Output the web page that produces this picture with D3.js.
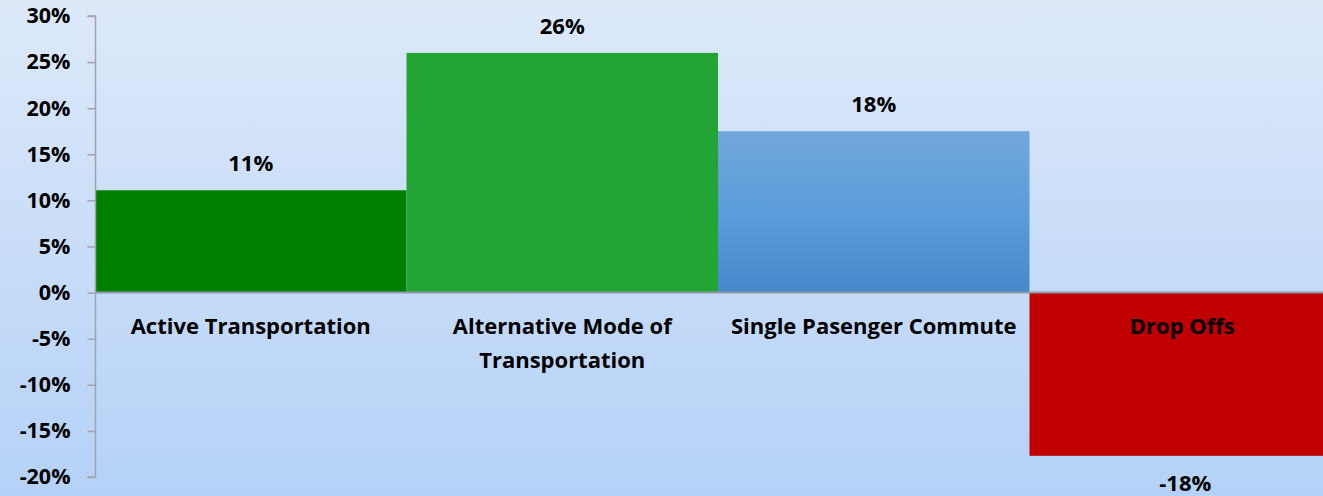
<!DOCTYPE html>
<html><head><meta charset="utf-8">
<script src="https://cdn.jsdelivr.net/npm/d3@7"></script>
<style>html,body{margin:0;padding:0;overflow:hidden;}svg{display:block;}</style>
</head><body>
<svg id="chart" width="1323" height="496"></svg>
<script>
const categories = ["Active Transportation", "Alternative Mode of Transportation", "Single Pasenger Commute", "Drop Offs"];
const categoryLines = [["Active Transportation"], ["Alternative Mode of", "Transportation"], ["Single Pasenger Commute"], ["Drop Offs"]];
const values = [11.1, 26.0, 17.5, -17.7];
const valueLabels = ["11%", "26%", "18%", "-18%"];
const tickValues = [30, 25, 20, 15, 10, 5, 0, -5, -10, -15, -20];
const barColors = ["#008000", "#22a535", "url(#blueGrad)", "#c00000"];

const W = 1323, H = 496;
const svg = d3.select("#chart");
const defs = svg.append("defs");
const bg = defs.append("linearGradient").attr("id","bgGrad").attr("x1",0).attr("y1",0).attr("x2",0).attr("y2",1);
bg.append("stop").attr("offset","0%").attr("stop-color","#dde9f9");
bg.append("stop").attr("offset","100%").attr("stop-color","#b4d1f7");
const bl = defs.append("linearGradient").attr("id","blueGrad").attr("x1",0).attr("y1",0).attr("x2",0).attr("y2",1);
bl.append("stop").attr("offset","0%").attr("stop-color","#72a7db");
bl.append("stop").attr("offset","50%").attr("stop-color","#5a9ddb");
bl.append("stop").attr("offset","100%").attr("stop-color","#4589ca");

svg.append("rect").attr("width",W).attr("height",H).attr("fill","url(#bgGrad)");

const x = d3.scaleBand().domain(categories).range([95, 1341]).paddingInner(0).paddingOuter(0);
const y = d3.scaleLinear().domain([-20, 30]).range([477, 16]);
const font = "'Open Sans', Lato, sans-serif";

svg.selectAll("rect.bar").data(categories).enter().append("rect")
  .attr("class","bar")
  .attr("x", d => x(d))
  .attr("width", x.bandwidth())
  .attr("y", (d,i) => y(Math.max(0, values[i])))
  .attr("height", (d,i) => Math.abs(y(values[i]) - y(0)))
  .attr("fill", (d,i) => barColors[i]);

// zero line
svg.append("line").attr("x1",95).attr("x2",W).attr("y1",y(0)).attr("y2",y(0))
  .attr("stroke","#8e9aa8").attr("stroke-width",2);

// y axis
const yAxis = d3.axisLeft(y).tickValues(tickValues).tickSize(8).tickPadding(17)
  .tickFormat(d => d + "%");
const gy = svg.append("g").attr("transform","translate(95.5,0)").call(yAxis);
gy.select(".domain").attr("stroke","#a0a4aa").attr("stroke-width",1.5).attr("d","M-8,16H0V477H-8");
gy.selectAll(".tick line").attr("stroke","#a0a4aa").attr("stroke-width",1.5);
gy.selectAll(".tick text").attr("font-family",font).attr("font-weight","bold")
  .attr("font-size","21.5px").attr("fill","#000");

// category labels
const cx = (c,i) => x(c) + x.bandwidth()/2 - (i===3 ? 3 : 0);
categories.forEach((c,i) => {
  const t = svg.append("text").attr("x", cx(c,i)).attr("y", 334)
    .attr("text-anchor","middle").attr("font-family",font).attr("font-weight","bold")
    .attr("font-size","22px").attr("fill","#000");
  categoryLines[i].forEach((ln,j) => {
    t.append("tspan").attr("x", cx(c,i)).attr("dy", j===0 ? 0 : 34).text(ln);
  });
});

// value labels
categories.forEach((c,i) => {
  const v = values[i];
  svg.append("text")
    .attr("x", x(c) + x.bandwidth()/2)
    .attr("y", v >= 0 ? y(v) - 19 : y(v) + 35)
    .attr("text-anchor","middle").attr("font-family",font).attr("font-weight","bold")
    .attr("font-size","22px").attr("fill","#000").text(valueLabels[i]);
});
</script>
</body></html>
